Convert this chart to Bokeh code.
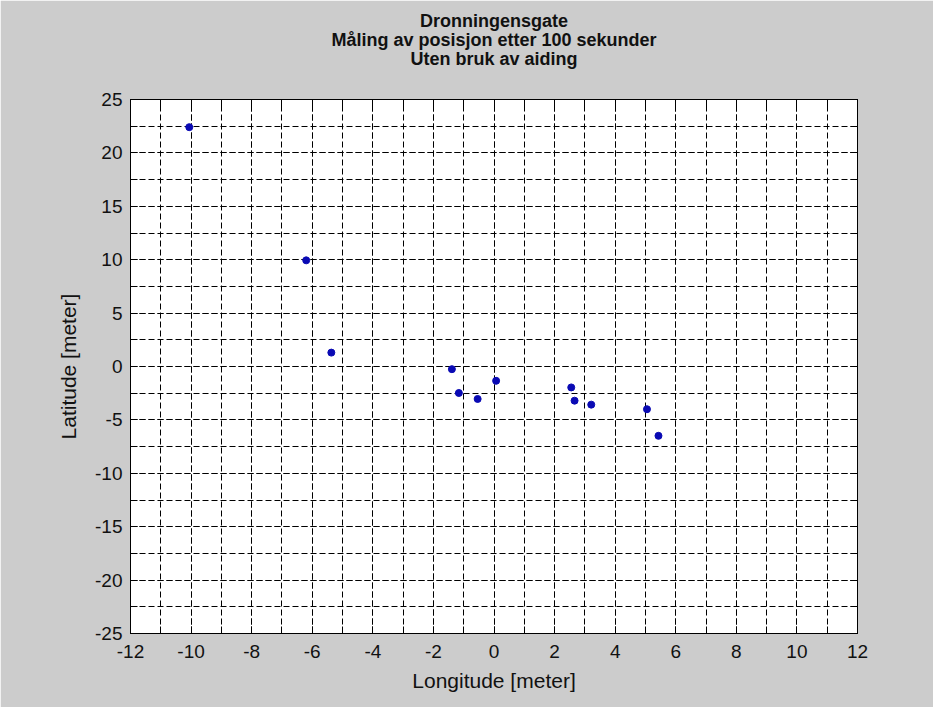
from bokeh.plotting import figure
from bokeh.models import FixedTicker, LinearAxis, Title, Range1d
from bokeh.embed import file_html
from bokeh.resources import INLINE

# Position fixes after 100 s, relative to the reference point (metres)
lon = [-10.06, -6.20, -5.37, -1.39, -1.16, -0.54, 0.07, 2.55, 2.66, 3.21, 5.05, 5.43]
lat = [22.41, 9.94, 1.30, -0.25, -2.48, -3.04, -1.34, -1.96, -3.20, -3.57, -4.00, -6.49]

x_ticks = [-12, -10, -8, -6, -4, -2, 0, 2, 4, 6, 8, 10, 12]
x_minor = [-12, -11, -10, -9, -8, -7, -6, -5, -4, -3, -2, -1, 0,
           1, 2, 3, 4, 5, 6, 7, 8, 9, 10, 11, 12]
y_ticks = [-25, -20, -15, -10, -5, 0, 5, 10, 15, 20, 25]
y_minor = [-25, -22.5, -20, -17.5, -15, -12.5, -10, -7.5, -5, -2.5, 0,
           2.5, 5, 7.5, 10, 12.5, 15, 17.5, 20, 22.5, 25]

title_lines = ["Dronningensgate",
               "Måling av posisjon etter 100 sekunder",
               "Uten bruk av aiding"]

FONT = "Liberation Sans"
BG = "#cccccc"

p = figure(width=933, height=707, output_backend="svg", toolbar_location=None,
           x_range=Range1d(-12, 12), y_range=Range1d(-25, 25),
           min_border_left=130, min_border_right=76,
           min_border_top=99, min_border_bottom=74)
p.background_fill_color = "white"
p.border_fill_color = BG
p.outline_line_color = "black"
p.outline_line_width = 1


def style_axis(ax, ticks, minor, show_labels):
    ax.ticker = FixedTicker(ticks=ticks, minor_ticks=minor)
    ax.major_tick_in = 7
    ax.major_tick_out = 0
    ax.minor_tick_in = 7
    ax.minor_tick_out = 0
    ax.major_tick_line_color = "black"
    ax.minor_tick_line_color = "black"
    ax.axis_line_color = "black"
    ax.major_label_text_font = FONT
    ax.major_label_text_font_size = "19px"
    ax.major_label_text_color = "#111111" if show_labels else None
    # plain hyphen-minus labels
    ax.major_label_overrides = {t: str(t) for t in ticks}
    ax.axis_label_text_font = FONT
    ax.axis_label_text_font_size = "21px"
    ax.axis_label_text_font_style = "normal"
    ax.axis_label_text_color = "#111111"


style_axis(p.xaxis[0], x_ticks, x_minor, True)
style_axis(p.yaxis[0], y_ticks, y_minor, True)
p.xaxis[0].axis_label = "Longitude [meter]"
p.yaxis[0].axis_label = "Latitude [meter]"
p.xaxis[0].major_label_standoff = 11
p.xaxis[0].axis_label_standoff = 8
p.yaxis[0].major_label_standoff = 8
p.yaxis[0].axis_label_standoff = 12

# box-style ticks on the top and right edges
top_ax = LinearAxis()
right_ax = LinearAxis()
style_axis(top_ax, x_ticks, x_minor, False)
style_axis(right_ax, y_ticks, y_minor, False)
p.add_layout(top_ax, "above")
p.add_layout(right_ax, "right")

# dashed grid at every major and minor tick
for g, t, m in ((p.xgrid[0], x_ticks, x_minor), (p.ygrid[0], y_ticks, y_minor)):
    g.ticker = FixedTicker(ticks=t, minor_ticks=m)
    g.grid_line_color = "black"
    g.grid_line_dash = "6 3"
    g.grid_line_width = 1
    g.minor_grid_line_color = "black"
    g.minor_grid_line_dash = "6 3"
    g.minor_grid_line_width = 1

# empty spacer between the frame and the title block
p.add_layout(Title(text=" ", text_font=FONT, text_font_size="26px",
                   standoff=0), "above")

# three-line title, innermost line added first; tighter line pitch
for line in reversed(title_lines):
    p.add_layout(Title(text=line, align="center", text_font=FONT,
                       text_font_size="18px", text_font_style="bold",
                       text_color="#111111", standoff=-3),
                 "above")

p.scatter(lon, lat, size=7, color="#0a0ab4", marker="circle")

open("out.html", "w").write(file_html(p, INLINE))
